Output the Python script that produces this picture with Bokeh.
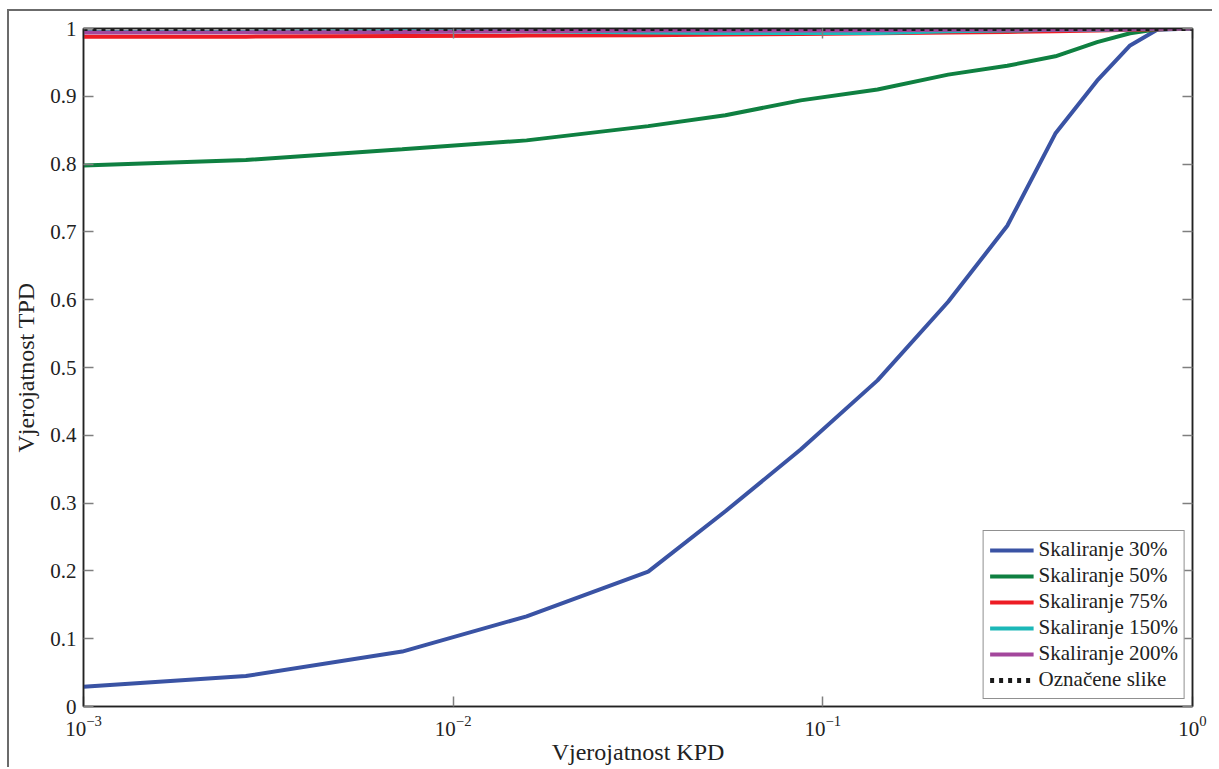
from bokeh.plotting import figure
from bokeh.models import LogAxis, LinearAxis, FixedTicker, Legend, LegendItem, Range1d
from bokeh.embed import file_html
from bokeh.resources import INLINE

# ---- data ----
kpd = [0.001, 0.00275, 0.00728, 0.0158, 0.0337, 0.0545, 0.0871, 0.1406,
       0.2183, 0.3155, 0.4256, 0.552, 0.678, 0.802, 1.0]
tpd_30 = [0.029, 0.045, 0.081, 0.133, 0.199, 0.288, 0.379, 0.481,
          0.597, 0.709, 0.845, 0.923, 0.975, 0.998, 1.0]
tpd_50 = [0.798, 0.806, 0.822, 0.835, 0.856, 0.872, 0.894, 0.910,
          0.932, 0.945, 0.959, 0.980, 0.993, 0.999, 1.0]
tpd_75 = [0.988, 0.988, 0.989, 0.9895, 0.990, 0.991, 0.992, 0.993,
          0.994, 0.995, 0.996, 0.997, 0.998, 0.999, 1.0]
tpd_150 = [0.995, 0.995, 0.996, 0.996, 0.994, 0.9935, 0.9935, 0.9935,
           0.996, 0.997, 0.998, 0.998, 0.999, 1.0, 1.0]
tpd_200 = [0.994, 0.9945, 0.995, 0.996, 0.997, 0.997, 0.997, 0.9975,
           0.998, 0.998, 0.998, 0.9985, 0.999, 1.0, 1.0]
tpd_marked = [1.0] * len(kpd)

series_names = ["Skaliranje 30%", "Skaliranje 50%", "Skaliranje 75%",
                "Skaliranje 150%", "Skaliranje 200%", "Označene slike"]
series_values = [tpd_30, tpd_50, tpd_75, tpd_150, tpd_200, tpd_marked]
series_colors = ["#3a53a4", "#0f8041", "#ed1c24", "#1cb8b8", "#a3479c", "#1a1a1a"]

x_ticks = [0.001, 0.01, 0.1, 1.0]
y_ticks = [0, 0.1, 0.2, 0.3, 0.4, 0.5, 0.6, 0.7, 0.8, 0.9, 1]
y_tick_labels = ["0", "0.1", "0.2", "0.3", "0.4", "0.5", "0.6", "0.7", "0.8", "0.9", "1"]

FONT = "Liberation Serif"

p = figure(x_axis_type="log", output_backend="svg", toolbar_location=None,
           frame_width=1109, frame_height=678,
           min_border_left=74, min_border_top=17, min_border_right=20, min_border_bottom=58,
           x_range=Range1d(0.001, 1.0), y_range=Range1d(0, 1.0),
           background_fill_color="white", border_fill_color="white")
p.styles = {"border-top": "2px solid #6b6b6b", "border-left": "2px solid #6b6b6b",
            "margin-left": "7px", "margin-top": "9px"}
p.grid.visible = False
p.outline_line_color = "#222222"
p.outline_line_width = 1.5

renderers = []
for name, vals, col in zip(series_names, series_values, series_colors):
    if name == "Označene slike":
        r = p.line(kpd, vals, line_color=col, line_width=5, line_dash="4 5")
    else:
        r = p.line(kpd, vals, line_color=col, line_width=4)
    renderers.append((name, r))

def style_axis(ax, show_labels=True):
    ax.major_tick_in = 10
    ax.major_tick_out = 0
    ax.major_tick_line_color = "#7f7f7f"
    ax.major_tick_line_width = 1.5
    ax.minor_tick_line_color = None
    ax.axis_line_color = "#222222"
    ax.axis_line_width = 1.5
    ax.major_label_text_font = FONT
    if show_labels:
        ax.major_label_text_font_size = "21px"
        ax.major_label_text_color = "#222222"
    else:
        ax.major_label_text_font_size = "2px"
        ax.major_label_text_alpha = 0
    ax.axis_label_text_font = FONT
    ax.axis_label_text_font_size = "24px"
    ax.axis_label_text_font_style = "normal"
    ax.axis_label_text_color = "#222222"

xa = p.xaxis[0]
style_axis(xa)
xa.ticker = FixedTicker(ticks=x_ticks)
xa.axis_label = "Vjerojatnost KPD"
xa.major_label_standoff = 9
xa.axis_label_standoff = 0

ya = p.yaxis[0]
style_axis(ya)
ya.ticker = FixedTicker(ticks=y_ticks)
ya.major_label_overrides = {t: l for t, l in zip(y_ticks, y_tick_labels)}
ya.axis_label = "Vjerojatnost TPD"
ya.major_label_standoff = 7
ya.axis_label_standoff = 8

top = LogAxis()
style_axis(top, show_labels=False)
top.ticker = FixedTicker(ticks=x_ticks)
top.major_label_standoff = 0
p.add_layout(top, "above")

right = LinearAxis()
style_axis(right, show_labels=False)
right.ticker = FixedTicker(ticks=y_ticks)
right.major_label_standoff = 0
p.add_layout(right, "right")

legend = Legend(items=[LegendItem(label=n, renderers=[r]) for n, r in renderers],
                location="bottom_right")
legend.label_text_font = FONT
legend.label_text_font_size = "21px"
legend.label_text_color = "#222222"
legend.glyph_width = 44
legend.glyph_height = 20
legend.label_height = 20
legend.label_standoff = 5
legend.spacing = 1
legend.padding = 6
legend.margin = 7
legend.border_line_color = "#222222"
legend.border_line_width = 1.5
legend.background_fill_alpha = 1
p.add_layout(legend, "center")

open("out.html", "w").write(file_html(p, INLINE))
